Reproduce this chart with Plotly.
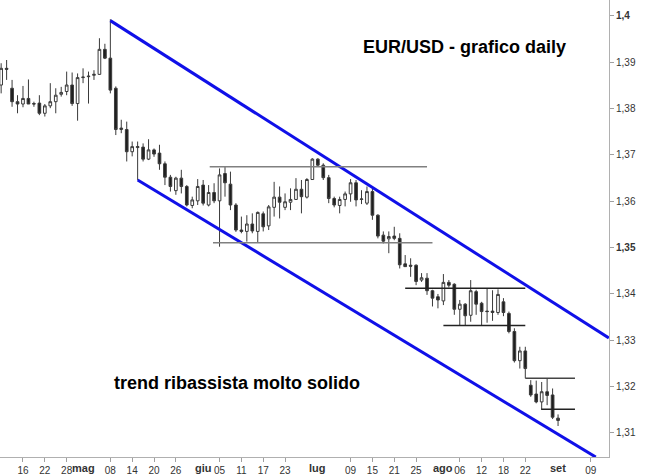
import plotly.graph_objects as go

# ---- data (trading-day index, EUR/USD daily) ----
idx = list(range(-4, 99))
opens = [1.3851,1.3887,1.3844,1.3815,1.3810,1.3822,1.3811,1.3812,1.3790,1.3806,
         1.3815,1.3831,1.3837,1.3851,1.3811,1.3867,1.3869,1.3872,1.3874,1.3928,
         1.3909,1.3844,1.3755,1.3755,1.3707,1.3716,1.3717,1.3691,1.3711,1.3704,
         1.3681,1.3652,1.3623,1.3650,1.3632,1.3591,1.3601,1.3635,1.3592,1.3619,
         1.3601,1.3660,1.3637,1.3592,1.3538,1.3535,1.3551,1.3535,1.3573,1.3547,
         1.3587,1.3609,1.3587,1.3598,1.3604,1.3626,1.3609,1.3647,1.3691,1.3678,
         1.3651,1.3606,1.3591,1.3604,1.3616,1.3640,1.3604,1.3596,1.3621,1.3570,
         1.3527,1.3519,1.3525,1.3520,1.3465,1.3462,1.3462,1.3430,1.3434,1.3407,
         1.3394,1.3385,1.3425,1.3421,1.3367,1.3378,1.3354,1.3405,1.3380,1.3363,
         1.3363,1.3360,1.3383,1.3358,1.3319,1.3256,1.3277,1.3203,1.3184,1.3167,
         1.3189,1.3182,1.3132]
highs = [1.3898,1.3905,1.3862,1.3829,1.3849,1.3863,1.3815,1.3829,1.3810,1.3855,
         1.3844,1.3847,1.3880,1.3878,1.3876,1.3887,1.3880,1.3883,1.3952,1.3940,
         1.3993,1.3848,1.3776,1.3772,1.3729,1.3729,1.3725,1.3734,1.3714,1.3722,
         1.3686,1.3657,1.3653,1.3668,1.3635,1.3610,1.3648,1.3646,1.3635,1.3639,
         1.3671,1.3676,1.3664,1.3596,1.3567,1.3570,1.3574,1.3578,1.3578,1.3592,
         1.3642,1.3632,1.3617,1.3628,1.3650,1.3646,1.3650,1.3693,1.3693,1.3682,
         1.3657,1.3610,1.3610,1.3621,1.3648,1.3646,1.3624,1.3632,1.3628,1.3572,
         1.3535,1.3535,1.3545,1.3531,1.3484,1.3477,1.3464,1.3445,1.3445,1.3409,
         1.3400,1.3443,1.3430,1.3423,1.3387,1.3380,1.3430,1.3409,1.3383,1.3412,
         1.3408,1.3410,1.3391,1.3362,1.3326,1.3286,1.3286,1.3214,1.3213,1.3210,
         1.3218,1.3196,1.3140]
lows = [1.3833,1.3862,1.3804,1.3790,1.3803,1.3810,1.3804,1.3786,1.3783,1.3801,
        1.3790,1.3826,1.3829,1.3806,1.3774,1.3855,1.3811,1.3862,1.3873,1.3907,
        1.3833,1.3743,1.3747,1.3686,1.3697,1.3646,1.3686,1.3689,1.3696,1.3668,
        1.3635,1.3621,1.3614,1.3617,1.3589,1.3585,1.3592,1.3591,1.3589,1.3596,
        1.3502,1.3610,1.3581,1.3534,1.3531,1.3513,1.3531,1.3511,1.3535,1.3538,
        1.3567,1.3563,1.3581,1.3581,1.3603,1.3574,1.3606,1.3646,1.3676,1.3646,
        1.3596,1.3587,1.3574,1.3589,1.3599,1.3589,1.3594,1.3592,1.3560,1.3520,
        1.3509,1.3488,1.3516,1.3455,1.3459,1.3437,1.3419,1.3426,1.3398,1.3373,
        1.3369,1.3376,1.3414,1.3355,1.3331,1.3331,1.3340,1.3355,1.3333,1.3338,
        1.3342,1.3355,1.3352,1.3315,1.3252,1.3239,1.3218,1.3178,1.3164,1.3151,
        1.3160,1.3130,1.3115]
closes = [1.3887,1.3885,1.3815,1.3810,1.3822,1.3810,1.3810,1.3790,1.3806,1.3815,
          1.3829,1.3835,1.3851,1.3811,1.3867,1.3868,1.3870,1.3874,1.3928,1.3909,
          1.3840,1.3755,1.3758,1.3707,1.3718,1.3718,1.3691,1.3711,1.3702,1.3681,
          1.3652,1.3632,1.3650,1.3632,1.3592,1.3603,1.3632,1.3596,1.3619,1.3601,
          1.3657,1.3640,1.3592,1.3538,1.3535,1.3551,1.3536,1.3576,1.3545,1.3588,
          1.3609,1.3598,1.3599,1.3604,1.3626,1.3610,1.3647,1.3691,1.3678,1.3651,
          1.3606,1.3592,1.3604,1.3616,1.3640,1.3603,1.3605,1.3621,1.3570,1.3525,
          1.3514,1.3524,1.3520,1.3463,1.3459,1.3460,1.3427,1.3435,1.3407,1.3391,
          1.3387,1.3425,1.3419,1.3367,1.3378,1.3353,1.3407,1.3378,1.3362,1.3362,
          1.3360,1.3399,1.3360,1.3319,1.3256,1.3277,1.3239,1.3182,1.3167,1.3189,
          1.3181,1.3134,1.3127]

# x tick labels (trading-day index -> label)
day_ticks = [0, 4, 8, 16, 20, 24, 28, 36, 40, 44, 48, 60, 64, 68, 72, 80, 84, 88, 92, 104]
day_labels = ["16", "22", "28", "08", "14", "20", "26", "05", "11", "17", "23",
              "09", "15", "21", "25", "06", "12", "18", "22", "09"]
month_ticks = [11, 33, 54, 77, 98]
month_labels = ["mag", "giu", "lug", "ago", "set"]

# y tick labels
y_ticks = [1.31, 1.32, 1.33, 1.34, 1.35, 1.36, 1.37, 1.38, 1.39, 1.40]
y_labels = ["1,31", "1,32", "1,33", "1,34", "<b>1,35</b>", "1,36", "1,37", "1,38", "1,39", "<b>1,4</b>"]

# channel lines (index, price)
upper_channel = [(16, 1.3990), (107.3, 1.3305)]
lower_channel = [(21, 1.3646), (104.9, 1.3048)]
# horizontal levels (x0, x1, price, colour)
levels = [(34.2, 74.0, 1.36747, "#808080"),
          (34.8, 75.0, 1.35107, "#808080"),
          (70.0, 92.0, 1.34122, "#222222"),
          (77.0, 92.0, 1.33320, "#222222"),
          (92.0, 101.1, 1.32180, "#444444"),
          (94.9, 101.1, 1.31511, "#222222")]

fig = go.Figure()
fig.add_trace(go.Candlestick(
    x=idx, open=opens, high=highs, low=lows, close=closes,
    increasing=dict(line=dict(color="#3a3a3a", width=1), fillcolor="#ffffff"),
    decreasing=dict(line=dict(color="#3a3a3a", width=1), fillcolor="#1e1e1e"),
    whiskerwidth=0, showlegend=False, hoverinfo="skip",
))

for (x0, y0), (x1, y1) in (upper_channel, lower_channel):
    fig.add_shape(type="line", x0=x0, y0=y0, x1=x1, y1=y1, xref="x", yref="y",
                  line=dict(color="#1010e8", width=3))
for x0, x1, p, c in levels:
    fig.add_shape(type="line", x0=x0, y0=p, x1=x1, y1=p, xref="x", yref="y",
                  line=dict(color=c, width=1.5))

fig.add_annotation(text="<b>EUR/USD - grafico daily</b>", xref="paper", yref="paper",
                   x=0.7635, y=0.897, xanchor="center", yanchor="middle", showarrow=False,
                   font=dict(family="Liberation Sans", size=18, color="#000000"))
fig.add_annotation(text="<b>trend ribassista molto solido</b>", xref="paper", yref="paper",
                   x=0.389, y=0.162, xanchor="center", yanchor="middle", showarrow=False,
                   font=dict(family="Liberation Sans", size=18, color="#000000"))

# month labels below the axis (bold, without tick marks)
for mt, ml in zip(month_ticks, month_labels):
    fig.add_annotation(text="<b>%s</b>" % ml, xref="x", yref="paper", x=mt, y=0,
                       xanchor="center", yanchor="top", yshift=-3, showarrow=False,
                       font=dict(family="Liberation Sans", size=11, color="#333333"))

tickfont = dict(family="Liberation Sans", size=10, color="#333333")
fig.update_layout(
    width=650, height=476,
    margin=dict(l=0, r=41, t=0, b=19, pad=0, autoexpand=False),
    paper_bgcolor="white", plot_bgcolor="white",
    xaxis=dict(range=[-4.21, 107.33], rangeslider=dict(visible=False),
               showgrid=False, zeroline=False, showline=True, linecolor="#b0b0b0",
               ticks="outside", ticklen=4, tickcolor="#a0a0a0",
               tickvals=day_ticks, ticktext=day_labels, tickfont=tickfont),
    yaxis=dict(range=[1.30481, 1.40345], side="right", showgrid=False, zeroline=False,
               showline=True, linecolor="#b0b0b0", ticks="outside", ticklen=4,
               tickcolor="#a0a0a0", tickvals=y_ticks, ticktext=y_labels,
               tickfont=tickfont),
)
fig.write_html("out.html", config={"displayModeBar": False},
               post_script="document.body.style.margin='0';document.body.style.overflow='hidden';")
